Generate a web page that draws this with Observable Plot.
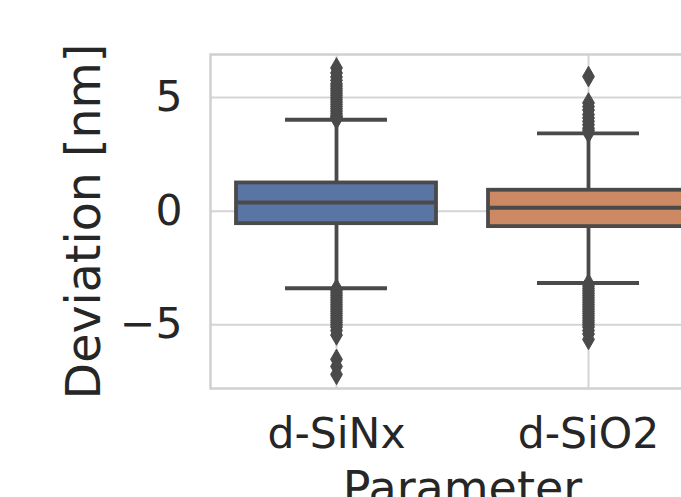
<!DOCTYPE html>
<html>
<head>
<meta charset="utf-8">
<script src="https://cdn.jsdelivr.net/npm/d3@7"></script>
<script src="https://cdn.jsdelivr.net/npm/@observablehq/plot@0.6"></script>
<style>
  html, body { margin: 0; padding: 0; background: #fff; overflow: hidden; width: 681px; height: 497px; }
</style>
</head>
<body>
<div id="chart"></div>
<script>
const categories = ["d-SiNx", "d-SiO2"];
const q1 = [-0.55, -0.68];
const median = [0.38, 0.15];
const q3 = [1.24, 0.92];
const whiskerLo = [-3.39, -3.16];
const whiskerHi = [4.02, 3.42];
const outliersSiNx = [4.05, 4.1, 4.15, 4.2, 4.3, 4.4, 4.5, 4.6, 4.7, 4.8, 4.9, 5.0, 5.1, 5.2, 5.3, 5.4, 5.5, 5.6, 5.75, 5.9, 6.08, 6.3,
  -3.42, -3.5, -3.6, -3.7, -3.8, -3.9, -4.0, -4.1, -4.2, -4.3, -4.4, -4.5, -4.6, -4.7, -4.8, -4.9, -5.0, -5.1, -5.25, -5.45,
  -6.52, -6.83, -7.18];
const outliersSiO2 = [3.45, 3.55, 3.65, 3.8, 3.95, 4.1, 4.25, 4.45, 4.6, 4.76, 5.92,
  -3.2, -3.3, -3.4, -3.5, -3.6, -3.7, -3.8, -3.9, -4.0, -4.1, -4.2, -4.3, -4.4, -4.5, -4.6, -4.7, -4.8, -4.9, -5.0, -5.1, -5.25, -5.4, -5.64];
const yTicks = [-5, 0, 5];
const colors = ["#5875a4", "#cc8963"];

const stats = categories.map((c, i) => ({cat: c, q1: q1[i], med: median[i], q3: q3[i], lo: whiskerLo[i], hi: whiskerHi[i], color: colors[i]}));
const outliers = [
  ...outliersSiNx.map(v => ({cat: categories[0], v})),
  ...outliersSiO2.map(v => ({cat: categories[1], v}))
];

const gray = "#4a4a4a";
const font = "DejaVu Sans";
const boxInset = 26;
const capInset = 75;

const chart = Plot.plot({
  width: 734,
  height: 497,
  marginLeft: 210,
  marginRight: 20,
  marginTop: 54,
  marginBottom: 109,
  style: {fontFamily: font, maxWidth: "none", background: "#fff", color: "#262626"},
  x: {domain: categories, padding: 0, axis: null},
  y: {domain: [-7.80, 6.89], axis: null},
  marks: [
    Plot.gridY(yTicks, {stroke: "#d5d5d5", strokeOpacity: 1, strokeWidth: 2}),
    Plot.gridX(categories, {stroke: "#d5d5d5", strokeOpacity: 1, strokeWidth: 2}),
    Plot.frame({stroke: "#d0d0d0", strokeWidth: 2.5}),
    Plot.axisY(yTicks, {tickSize: 0, tickPadding: 28, fontSize: 42.5, fill: "#262626", label: null}),
    Plot.axisX(categories, {tickSize: 0, tickPadding: 29, fontSize: 42.5, fill: "#262626", label: null}),
    Plot.text(["Deviation [nm]"], {frameAnchor: "left", rotate: -90, dx: -111, lineAnchor: "bottom", textAnchor: "middle", fontSize: 47.5, fill: "#262626"}),
    Plot.text(["Parameter"], {frameAnchor: "bottom", dy: 115, lineAnchor: "bottom", textAnchor: "middle", fontSize: 46, fill: "#262626"}),
    Plot.ruleX(stats, {x: "cat", y1: "q3", y2: "hi", stroke: gray, strokeWidth: 3.8}),
    Plot.ruleX(stats, {x: "cat", y1: "lo", y2: "q1", stroke: gray, strokeWidth: 3.8}),
    Plot.barY(stats, {x: "cat", y1: "q1", y2: "q3", fill: "color", stroke: gray, strokeWidth: 3.8, insetLeft: boxInset, insetRight: boxInset}),
    Plot.tickY(stats, {x: "cat", y: "med", stroke: gray, strokeWidth: 3.8, insetLeft: boxInset, insetRight: boxInset}),
    Plot.tickY(stats, {x: "cat", y: "hi", stroke: gray, strokeWidth: 3.8, insetLeft: capInset, insetRight: capInset}),
    Plot.tickY(stats, {x: "cat", y: "lo", stroke: gray, strokeWidth: 3.8, insetLeft: capInset, insetRight: capInset}),
    Plot.dot(outliers, {x: "cat", y: "v", symbol: "diamond", r: 6.2, fill: gray, stroke: gray, strokeWidth: 1})
  ]
});
document.getElementById("chart").appendChild(chart);
</script>
</body>
</html>
